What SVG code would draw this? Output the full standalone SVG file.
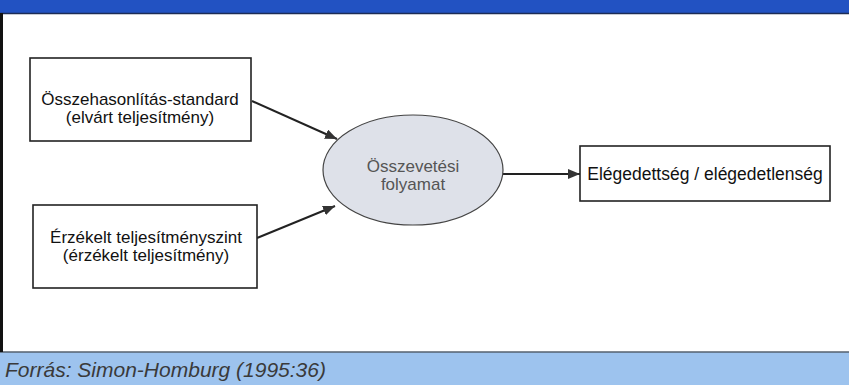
<svg xmlns="http://www.w3.org/2000/svg" width="849" height="385" viewBox="0 0 849 385">
<style>
.box{fill:#fff;stroke:#222;stroke-width:1.6}
.t{font-family:"Liberation Sans",Arial,sans-serif;font-size:17px;fill:#111;text-anchor:middle}
.et{font-family:"Liberation Sans",Arial,sans-serif;font-size:17px;fill:#555;text-anchor:middle}
.conn{stroke:#222;stroke-width:2;fill:none;marker-end:url(#ah)}
</style>
<defs>
<marker id="ah" viewBox="0 0 12 10" refX="12" refY="5" markerWidth="12" markerHeight="10" markerUnits="userSpaceOnUse" orient="auto">
<path d="M0,0 L12,5 L0,10 z" fill="#333"/>
</marker>
</defs>
<rect x="0" y="0" width="849" height="385" fill="#fff"/>
<rect x="0" y="0" width="849" height="13" fill="#2252c2"/>
<line x1="0" y1="13.5" x2="849" y2="13.5" stroke="#1c2c55" stroke-width="1.5"/>
<rect x="0" y="352" width="849" height="33" fill="#9dc3ee"/>
<line x1="0" y1="352" x2="849" y2="352" stroke="#55606e" stroke-width="1.6"/>
<line x1="1.5" y1="13" x2="1.5" y2="352" stroke="#111" stroke-width="3"/>
<text x="5" y="377" font-family="'Liberation Sans',Arial,sans-serif" font-size="21" font-style="italic" fill="#3a3a3a">Forrás: Simon-Homburg (1995:36)</text>
<g id="connectors">
<path class="conn" d="M252,101 L337,139"/>
<path class="conn" d="M257,238 L335,206"/>
<path class="conn" d="M503,174 L580,174"/>
</g>
<g id="standard">
<rect class="box" x="30" y="58" width="221" height="83"/>
<text class="t" x="140" y="105">Összehasonlítás-standard</text>
<text class="t" x="140" y="123">(elvárt teljesítmény)</text>
</g>
<g id="perceived">
<rect class="box" x="33" y="205" width="224" height="83"/>
<text class="t" x="146" y="243">Érzékelt teljesítményszint</text>
<text class="t" x="146" y="261">(érzékelt teljesítmény)</text>
</g>
<g id="process">
<ellipse cx="413" cy="170" rx="90" ry="55" fill="#dee1e9" stroke="#444" stroke-width="1.2"/>
<text class="et" x="413" y="172">Összevetési</text>
<text class="et" x="413" y="190">folyamat</text>
</g>
<g id="satisfaction">
<rect class="box" x="580" y="146" width="250" height="55"/>
<text class="t" x="705" y="180" style="font-size:17.5px">Elégedettség / elégedetlenség</text>
</g>
</svg>
